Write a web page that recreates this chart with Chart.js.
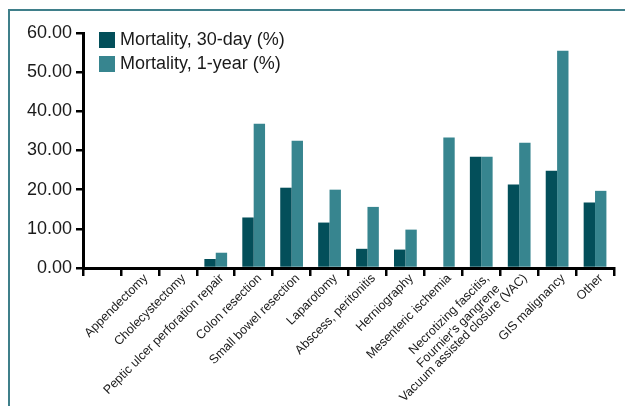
<!DOCTYPE html>
<html>
<head>
<meta charset="utf-8">
<script src="https://cdn.jsdelivr.net/npm/chart.js@4"></script>
<style>
    body { margin: 0; background: #fff; overflow: hidden; }
    #wrap { position: relative; width: 625px; height: 406px; }
    #frame {
        position: absolute; left: 8px; top: 9px; width: 700px; height: 500px;
        border-left: 2px solid #3f7f8a; border-top: 2px solid #3f7f8a;
    }
    #chart { position: absolute; left: 0; top: 0; }
</style>
</head>
<body>
<div id="wrap">
    <div id="frame"></div>
    <canvas id="chart" width="625" height="406"></canvas>
</div>
<script>
// Procedure categories (x axis)
const categories = [
    'Appendectomy',
    'Cholecystectomy',
    'Peptic ulcer perforation repair',
    'Colon resection',
    'Small bowel resection',
    'Laparotomy',
    'Abscess, peritonitis',
    'Herniography',
    'Mesenteric ischemia',
    ['Necrotizing fascitis,', 'Fournier\'s gangrene'],
    'Vacuum assisted closure (VAC)',
    'GIS malignancy',
    'Other'
];

// Mortality values (%)
const mortality30Day = [0, 0, 2.3, 12.9, 20.5, 11.6, 4.9, 4.7, 0, 28.4, 21.3, 24.8, 16.7];
const mortality1Year = [0, 0, 3.9, 36.8, 32.5, 20.0, 15.6, 9.8, 33.3, 28.4, 32.0, 55.5, 19.7];

// Y axis ticks
const yTicks = [0, 10, 20, 30, 40, 50, 60];

const darkTeal = '#034f5a';
const lightTeal = '#37858f';
const fontFamily = '"Liberation Sans", Arial, sans-serif';

// The x axis keeps an empty slot before the first category
const labels = [''].concat(categories);

// Legend drawn inside the plot, top left
const legendInside = {
    id: 'legendInside',
    afterDraw(chart) {
        const ctx = chart.ctx;
        const left = chart.chartArea.left + 16;
        const top = chart.chartArea.top - 1;
        ctx.save();
        ctx.font = '18px ' + fontFamily;
        ctx.textBaseline = 'middle';
        ctx.textAlign = 'left';
        chart.data.datasets.forEach((ds, i) => {
            const y = top + i * 24;
            ctx.fillStyle = ds.backgroundColor;
            ctx.fillRect(left, y, 16, 16);
            ctx.fillStyle = '#1a1a1a';
            ctx.fillText(ds.label, left + 21, y + 8.5);
        });
        ctx.restore();
    }
};

const ctx = document.getElementById('chart').getContext('2d');

const chart = new Chart(ctx, {
    type: 'bar',
    data: {
        labels: labels,
        datasets: [{
            label: 'Mortality, 30-day (%)',
            data: [null].concat(mortality30Day),
            backgroundColor: darkTeal,
            borderWidth: 0,
            categoryPercentage: 0.6,
            barPercentage: 1.0
        }, {
            label: 'Mortality, 1-year (%)',
            data: [null].concat(mortality1Year),
            backgroundColor: lightTeal,
            borderWidth: 0,
            categoryPercentage: 0.6,
            barPercentage: 1.0
        }]
    },
    options: {
        responsive: false,
        animation: false,
        layout: {
            padding: { top: 33, right: 11, left: 0, bottom: 0 }
        },
        plugins: {
            legend: { display: false },
            tooltip: { enabled: false }
        },
        scales: {
            x: {
                afterFit: (scale) => { scale.height = 138; },
                border: { color: '#000', width: 3 },
                grid: {
                    offset: true,
                    drawOnChartArea: false,
                    drawTicks: true,
                    tickLength: 8,
                    color: '#000',
                    lineWidth: 2.5
                },
                ticks: {
                    autoSkip: false,
                    maxRotation: 45,
                    minRotation: 45,
                    padding: -5,
                    labelOffset: 6,
                    color: '#1a1a1a',
                    font: { family: fontFamily, size: 12.5 }
                }
            },
            y: {
                min: yTicks[0],
                max: yTicks[yTicks.length - 1],
                afterFit: (scale) => { scale.width = 83; },
                afterBuildTicks: (scale) => {
                    scale.ticks = yTicks.map(v => ({ value: v }));
                },
                border: { color: '#000', width: 3 },
                grid: {
                    drawOnChartArea: false,
                    drawTicks: true,
                    tickLength: 7,
                    color: '#000',
                    lineWidth: 2.5
                },
                ticks: {
                    padding: 4,
                    color: '#1a1a1a',
                    font: { family: fontFamily, size: 18 },
                    callback: (value) => Number(value).toFixed(2)
                }
            }
        }
    },
    plugins: [legendInside]
});
</script>
</body>
</html>
